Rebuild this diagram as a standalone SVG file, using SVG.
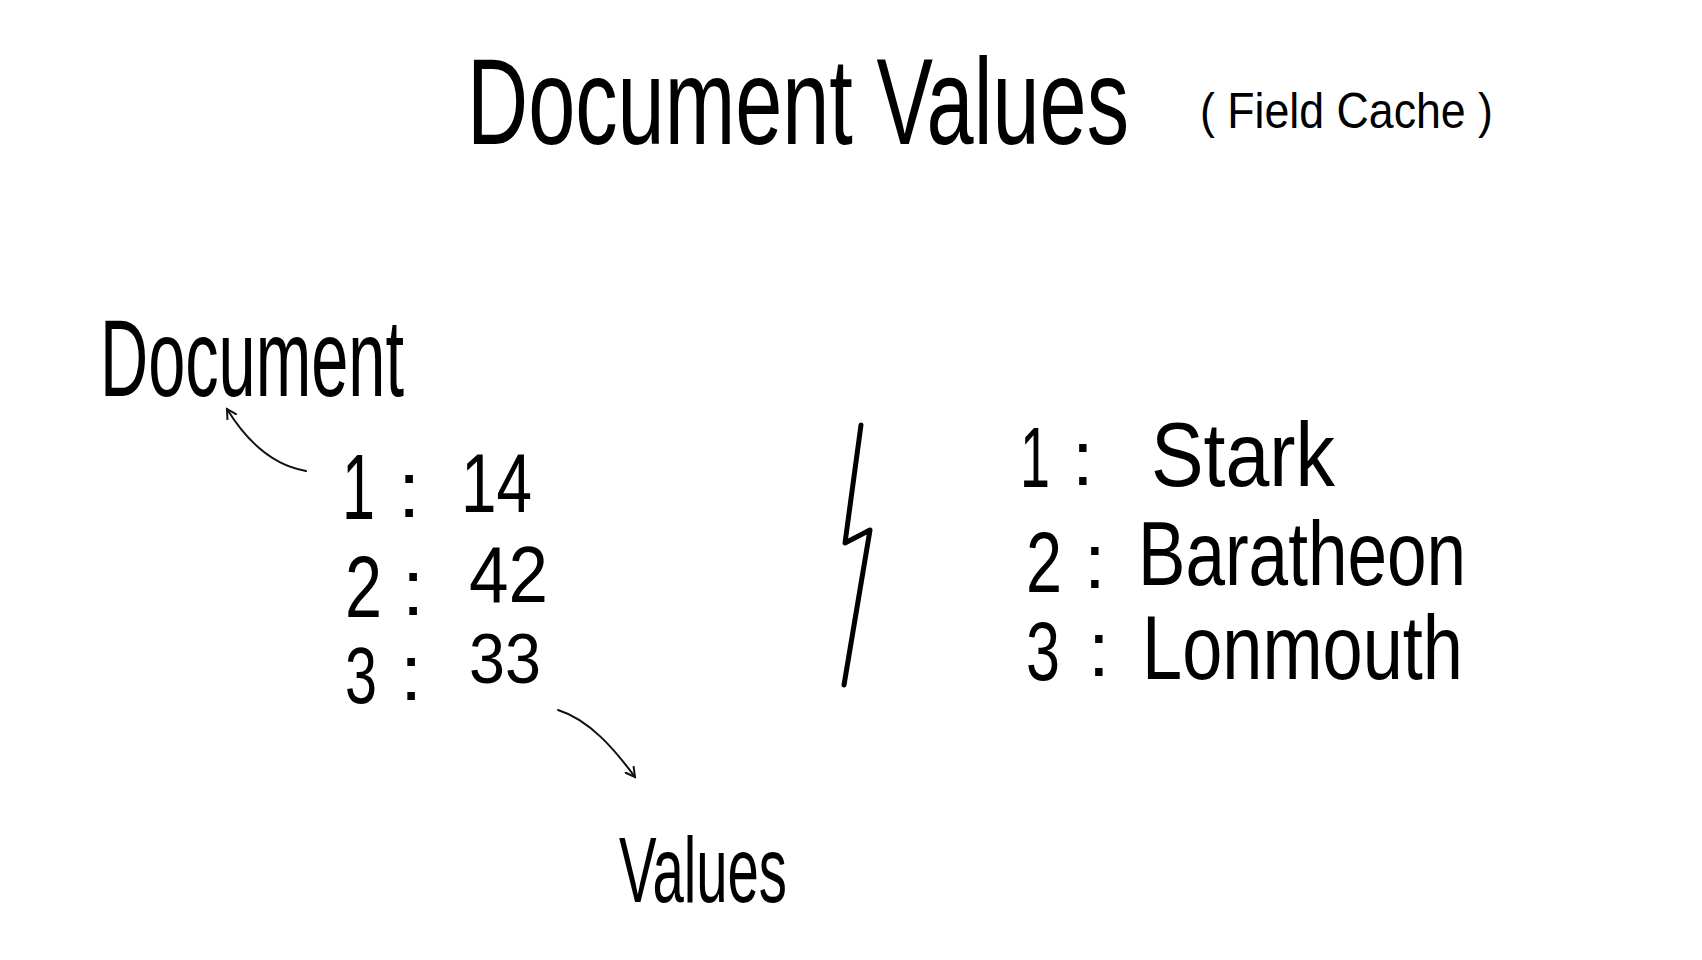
<svg xmlns="http://www.w3.org/2000/svg" width="1702" height="960" viewBox="0 0 1702 960">
<defs>
<style>
.t{font-family:"Liberation Sans",Arial,sans-serif;fill:#000;}
.c{fill:none;stroke:#111;stroke-width:2;stroke-linecap:round;}
</style>
<marker id="ah" viewBox="0 0 12 12" refX="10" refY="6" markerWidth="12" markerHeight="12" markerUnits="userSpaceOnUse" orient="auto">
<path d="M1,1 L10,6 L1,11" fill="none" stroke="#111" stroke-width="2" stroke-linecap="round"/>
</marker>
</defs>
<rect width="1702" height="960" fill="#fff"/>
<g id="title">
<text class="t" transform="translate(467,144) scale(1,1.4)" font-size="88" textLength="662" lengthAdjust="spacingAndGlyphs">Document Values</text>
<text class="t" x="1200" y="128" font-size="50" textLength="293" lengthAdjust="spacingAndGlyphs">( Field Cache )</text>
</g>
<g id="document-label">
<text class="t" x="100" y="396" font-size="110" textLength="304" lengthAdjust="spacingAndGlyphs">Document</text>
</g>
<g id="values-label">
<text class="t" x="619" y="902" font-size="92" textLength="168" lengthAdjust="spacingAndGlyphs">Values</text>
</g>
<g id="numeric-values">
<text class="t" x="342" y="519" font-size="92" textLength="33" lengthAdjust="spacingAndGlyphs">1</text>
<text class="t" x="398" y="517" font-size="80">:</text>
<text class="t" x="461" y="512" font-size="84" textLength="71" lengthAdjust="spacingAndGlyphs">14</text>
<text class="t" x="345" y="617" font-size="88" textLength="37" lengthAdjust="spacingAndGlyphs">2</text>
<text class="t" x="402" y="615" font-size="80">:</text>
<text class="t" x="469" y="602" font-size="80" textLength="79" lengthAdjust="spacingAndGlyphs">42</text>
<text class="t" x="345" y="703" font-size="80" textLength="32" lengthAdjust="spacingAndGlyphs">3</text>
<text class="t" x="400" y="700" font-size="80">:</text>
<text class="t" x="469" y="683" font-size="70" textLength="72" lengthAdjust="spacingAndGlyphs">33</text>
</g>
<g id="separator">
<polyline points="861,425 845,543 870,530 844,685" fill="none" stroke="#000" stroke-width="5" stroke-linejoin="round" stroke-linecap="round"/>
</g>
<g id="string-values">
<text class="t" x="1020" y="487" font-size="86" textLength="30" lengthAdjust="spacingAndGlyphs">1</text>
<text class="t" x="1072" y="485" font-size="78">:</text>
<text class="t" x="1151" y="486" font-size="90" textLength="184" lengthAdjust="spacingAndGlyphs">Stark</text>
<text class="t" x="1026" y="592" font-size="86" textLength="36" lengthAdjust="spacingAndGlyphs">2</text>
<text class="t" x="1084" y="588" font-size="78">:</text>
<text class="t" x="1138" y="585" font-size="90" textLength="328" lengthAdjust="spacingAndGlyphs">Baratheon</text>
<text class="t" x="1026" y="680" font-size="84" textLength="34" lengthAdjust="spacingAndGlyphs">3</text>
<text class="t" x="1088" y="676" font-size="78">:</text>
<text class="t" x="1142" y="679" font-size="90" textLength="321" lengthAdjust="spacingAndGlyphs">Lonmouth</text>
</g>
<g id="connectors">
<path class="c" d="M306,471 C272,465 246,440 227,409" marker-end="url(#ah)"/>
<path class="c" d="M558,710 C590,720 615,750 635,777" marker-end="url(#ah)"/>
</g>
</svg>
